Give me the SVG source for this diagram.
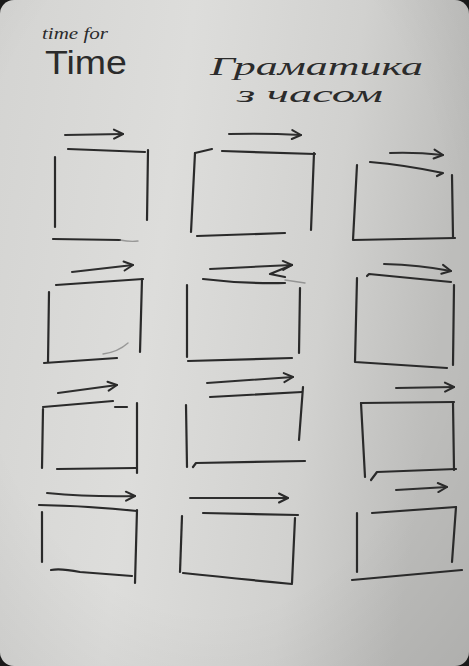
<svg xmlns="http://www.w3.org/2000/svg" width="469" height="666" viewBox="0 0 469 666">
  <defs>
    <linearGradient id="paper" x1="0" y1="0" x2="1" y2="0.2">
      <stop offset="0" stop-color="#d4d4d2"/>
      <stop offset="0.4" stop-color="#dddddb"/>
      <stop offset="0.75" stop-color="#d1d1cf"/>
      <stop offset="1" stop-color="#bdbdbb"/>
    </linearGradient>
    <radialGradient id="vig" cx="0.45" cy="0.4" r="0.8">
      <stop offset="0.65" stop-color="#000" stop-opacity="0"/>
      <stop offset="1" stop-color="#000" stop-opacity="0.07"/>
    </radialGradient>
    <marker id="head" markerUnits="userSpaceOnUse" markerWidth="14" markerHeight="12" refX="11" refY="6" orient="auto" viewBox="0 0 14 12">
      <path d="M2,1.5 L11,6 L2,10.5" fill="none" stroke="#2a2a2a" stroke-width="2" stroke-linecap="round" stroke-linejoin="round"/>
    </marker>
    <style>
      .ln{fill:none;stroke:#2a2a2a;stroke-width:2.2;stroke-linecap:round;stroke-linejoin:round}
      .faint{fill:none;stroke:#6a6a6a;stroke-width:1.4;stroke-linecap:round;opacity:0.6}
      .arr{fill:none;stroke:#2e2e2e;stroke-width:2;stroke-linecap:round;marker-end:url(#head)}
      .hand{fill:#2b2b2b}
    </style>
  </defs>

  <rect x="0" y="0" width="469" height="666" fill="#1a1a1a"/>
  <rect x="0" y="0" width="469" height="666" rx="14" fill="url(#paper)"/>
  <rect x="0" y="0" width="469" height="666" rx="14" fill="url(#vig)"/>

  <g id="title-left">
    <text x="42" y="39" class="hand" font-family="Liberation Serif, serif" font-style="italic" font-size="16" textLength="66" lengthAdjust="spacingAndGlyphs">time for</text>
    <text x="45" y="74" class="hand" font-family="Liberation Sans, sans-serif" font-size="34" textLength="82" lengthAdjust="spacingAndGlyphs">Time</text>
  </g>
  <g id="title-right">
    <text x="210" y="75" class="hand" font-family="Liberation Serif, serif" font-style="italic" font-size="25" textLength="213" lengthAdjust="spacingAndGlyphs">Граматика</text>
    <text x="237" y="102" class="hand" font-family="Liberation Serif, serif" font-style="italic" font-size="24" textLength="146" lengthAdjust="spacingAndGlyphs">з часом</text>
  </g>

  <!-- Row 1 -->
  <g id="box-r1c1">
    <path class="ln" d="M68,149 L145,152"/>
    <path class="ln" d="M55,157 L55,227"/>
    <path class="ln" d="M148,150 L147,220"/>
    <path class="ln" d="M53,239 L120,240"/>
    <path class="faint" d="M120,240 Q130,242 138,241"/>
  </g>
  <g id="box-r1c2">
    <path class="ln" d="M195,153 L212,149"/>
    <path class="ln" d="M222,151 L315,154"/>
    <path class="ln" d="M195,153 L191,232"/>
    <path class="ln" d="M314,153 L311,230"/>
    <path class="ln" d="M197,236 L285,233"/>
  </g>
  <g id="box-r1c3">
    <path class="ln" d="M370,162 Q405,165 443,173 L437,176"/>
    <path class="ln" d="M452,175 L453,237"/>
    <path class="ln" d="M357,165 L353,240 L455,238"/>
  </g>

  <!-- Row 2 -->
  <g id="box-r2c1">
    <path class="ln" d="M56,285 L143,279"/>
    <path class="ln" d="M142,279 L140,352"/>
    <path class="ln" d="M49,292 L48,362"/>
    <path class="ln" d="M44,363 L117,358"/>
    <path class="faint" d="M103,354 Q118,352 128,343"/>
  </g>
  <g id="box-r2c2">
    <path class="ln" d="M203,279 Q245,284 285,283"/>
    <path class="faint" d="M285,280 L305,283"/>
    <path class="ln" d="M187,285 L187,357"/>
    <path class="ln" d="M300,288 L299,353"/>
    <path class="ln" d="M188,361 L292,358"/>
  </g>
  <g id="box-r2c3">
    <path class="ln" d="M367,276 L369,274 L451,282"/>
    <path class="ln" d="M454,285 L453,365"/>
    <path class="ln" d="M357,278 L355,362 L447,368"/>
  </g>

  <!-- Row 3 -->
  <g id="box-r3c1">
    <path class="ln" d="M43,407 L113,401"/>
    <path class="ln" d="M115,407 L127,407"/>
    <path class="ln" d="M137,403 L137,473"/>
    <path class="ln" d="M43,409 L42,468"/>
    <path class="ln" d="M57,469 L136,468"/>
  </g>
  <g id="box-r3c2">
    <path class="ln" d="M210,397 L302,392"/>
    <path class="ln" d="M303,387 L299,440"/>
    <path class="ln" d="M186,405 L187,467"/>
    <path class="ln" d="M193,467 L196,463 L305,461"/>
  </g>
  <g id="box-r3c3">
    <path class="ln" d="M361,403 L454,402"/>
    <path class="ln" d="M361,403 L365,477"/>
    <path class="ln" d="M453,402 L454,470"/>
    <path class="ln" d="M371,480 L377,472 L456,469"/>
  </g>

  <!-- Row 4 -->
  <g id="box-r4c1">
    <path class="ln" d="M39,505 Q90,506 137,511"/>
    <path class="ln" d="M137,510 L135,583"/>
    <path class="ln" d="M42,512 L42,562"/>
    <path class="ln" d="M51,570 Q60,568 80,572 L132,576"/>
  </g>
  <g id="box-r4c2">
    <path class="ln" d="M203,513 L298,515"/>
    <path class="ln" d="M182,516 L180,572"/>
    <path class="ln" d="M295,518 L292,583"/>
    <path class="ln" d="M183,573 Q230,578 292,584"/>
  </g>
  <g id="box-r4c3">
    <path class="ln" d="M372,513 L456,507"/>
    <path class="ln" d="M357,513 L357,572"/>
    <path class="ln" d="M456,507 L452,562"/>
    <path class="ln" d="M352,580 L462,570"/>
  </g>

  <g id="connectors">
    <path class="arr" d="M65,135 L123,134"/>
    <path class="arr" d="M229,134 Q265,133 301,135"/>
    <path class="arr" d="M390,153 Q415,152 443,155"/>

    <path class="arr" d="M72,272 L133,265"/>
    <path class="arr" d="M210,269 L292,265"/>
    <path class="ln" d="M292,265 L270,274 L285,277"/>
    <path class="arr" d="M384,264 Q420,265 451,271"/>

    <path class="arr" d="M58,393 L117,385"/>
    <path class="arr" d="M207,383 L293,377"/>
    <path class="arr" d="M396,388 L454,387"/>

    <path class="arr" d="M47,493 Q90,497 135,496"/>
    <path class="arr" d="M190,498 L288,498"/>
    <path class="arr" d="M396,490 L447,487"/>
  </g>
</svg>
